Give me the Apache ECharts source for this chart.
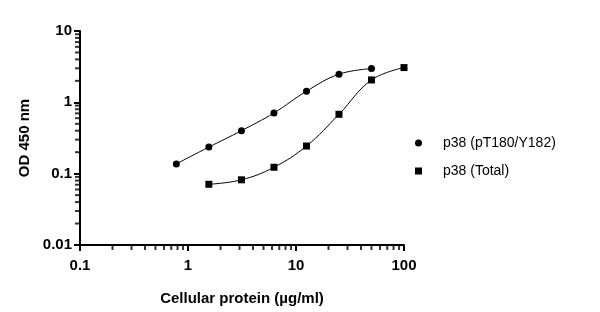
<!DOCTYPE html>
<html>
<head>
<meta charset="utf-8">
<script src="https://cdn.jsdelivr.net/npm/echarts@6/dist/echarts.min.js"></script>
<style>
  html, body { margin: 0; padding: 0; background: #fff; }
  #chart { width: 600px; height: 312px; }
</style>
</head>
<body>
<div id="chart"></div>
<script>
  // concentrations (µg/ml) and OD readings
  const conc1 = [0.78, 1.56, 3.125, 6.25, 12.5, 25, 50]
  const od1 = [0.137, 0.236, 0.40, 0.71, 1.43, 2.48, 2.97]
  const conc2 = [1.56, 3.125, 6.25, 12.5, 25, 50, 100]
  const od2 = [0.071, 0.082, 0.123, 0.244, 0.68, 2.06, 3.07]
  const name1 = 'p38 (pT180/Y182)'
  const name2 = 'p38 (Total)'

  // minor tick positions (log axes only get decade ticks by default)
  const xMinor = [0.2, 0.3, 0.4, 0.5, 0.6, 0.7, 0.8, 0.9, 2, 3, 4, 5, 6, 7, 8, 9, 20, 30, 40, 50, 60, 70, 80, 90]
  const yMinor = [0.02, 0.03, 0.04, 0.05, 0.06, 0.07, 0.08, 0.09, 0.2, 0.3, 0.4, 0.5, 0.6, 0.7, 0.8, 0.9, 2, 3, 4, 5, 6, 7, 8, 9]
  const xMin = 0.1, xMax = 100
  const yMin = 0.01, yMax = 10

  const font = 'Liberation Sans, Arial, sans-serif'
  const chart = echarts.init(document.getElementById('chart'))

  const labelStyle = { fontFamily: font, fontWeight: 'bold', fontSize: 15, color: '#000' }
  const tickMark = {
    type: 'scatter',
    silent: true,
    clip: false,
    z: 1,
    symbol: 'rect',
    itemStyle: { color: '#000' }
  }

  chart.setOption({
    animation: false,
    grid: { left: 80, right: 196, top: 31, bottom: 67, containLabel: false },
    legend: {
      orient: 'vertical',
      left: 410,
      top: 131,
      itemWidth: 7,
      itemHeight: 7,
      itemGap: 14,
      textStyle: { fontFamily: font, fontSize: 14, color: '#000', padding: [0, 0, 0, 16] },
      data: [
        { name: name1, icon: 'circle' },
        { name: name2, icon: 'rect' }
      ]
    },
    xAxis: {
      type: 'log',
      logBase: 10,
      min: xMin, max: xMax,
      name: 'Cellular protein (µg/ml)',
      nameLocation: 'middle',
      nameGap: 46,
      nameTextStyle: labelStyle,
      splitLine: { show: false },
      axisLine: { onZero: false, lineStyle: { color: '#000', width: 2 } },
      axisTick: { length: 6, lineStyle: { color: '#000', width: 2 } },
      axisLabel: Object.assign({ margin: 13, formatter: v => String(v) }, labelStyle)
    },
    yAxis: {
      type: 'log',
      logBase: 10,
      min: yMin, max: yMax,
      name: 'OD 450 nm',
      nameLocation: 'middle',
      nameGap: 48,
      nameTextStyle: labelStyle,
      splitLine: { show: false },
      axisLine: { onZero: false, lineStyle: { color: '#000', width: 2 } },
      axisTick: { length: 6, lineStyle: { color: '#000', width: 2 } },
      axisLabel: Object.assign({ margin: 8, formatter: v => String(v) }, labelStyle)
    },
    series: [
      Object.assign({}, tickMark, {
        symbolSize: [2, 4],
        symbolOffset: [0, 3],
        data: xMinor.map(v => [v, yMin])
      }),
      Object.assign({}, tickMark, {
        symbolSize: [4, 2],
        symbolOffset: [-3, 0],
        data: yMinor.map(v => [xMin, v])
      }),
      {
        name: name1,
        type: 'line',
        smooth: 0.4,
        symbol: 'circle',
        symbolSize: 7,
        itemStyle: { color: '#000' },
        lineStyle: { color: '#000', width: 1 },
        data: conc1.map((c, i) => [c, od1[i]])
      },
      {
        name: name2,
        type: 'line',
        smooth: 0.4,
        symbol: 'rect',
        symbolSize: 7,
        itemStyle: { color: '#000' },
        lineStyle: { color: '#000', width: 1 },
        data: conc2.map((c, i) => [c, od2[i]])
      }
    ]
  })
</script>
</body>
</html>
